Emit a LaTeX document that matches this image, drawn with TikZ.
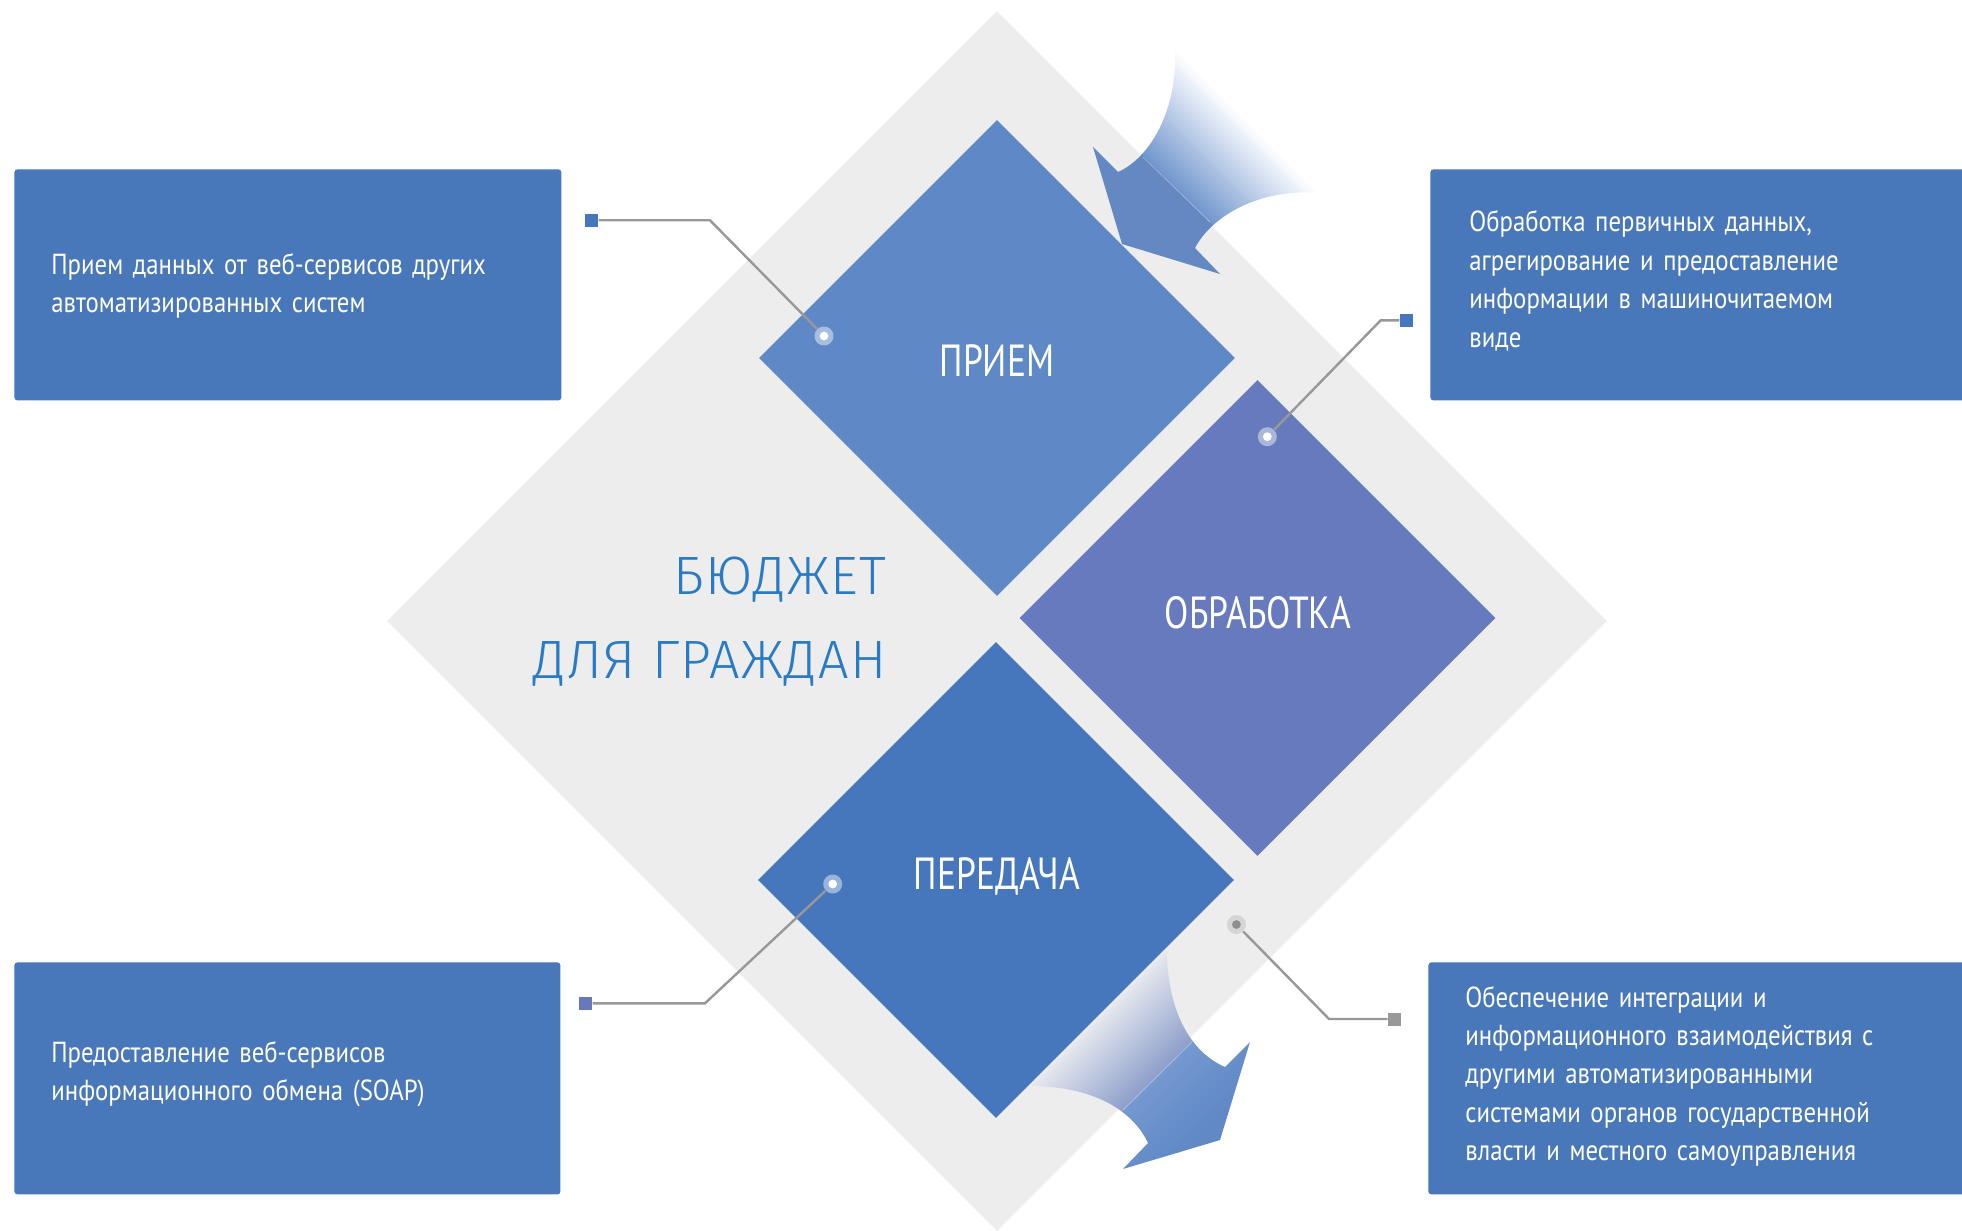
\documentclass[tikz,border=0pt]{standalone}
\usepackage{fontspec}
\setmainfont[FakeStretch=0.855]{PT Sans}
\newfontfamily\labelfont[FakeStretch=0.79]{PT Sans}
\newfontfamily\titlefont[LetterSpace=2.5]{Fira Sans Light}
\usetikzlibrary{shapes.geometric,calc}
\definecolor{bggray}{HTML}{EDEDED}
\definecolor{priem}{HTML}{5F88C6}
\definecolor{obrab}{HTML}{677ABD}
\definecolor{pered}{HTML}{4676BB}
\definecolor{boxblue}{HTML}{4878BA}
\definecolor{titleblue}{HTML}{2A7BC6}
\definecolor{linegray}{HTML}{989898}
\definecolor{arrowA}{HTML}{6488C1}
\definecolor{arrowAf}{HTML}{7095CD}
\definecolor{arrowB}{HTML}{6089C6}
\definecolor{arrowBf}{HTML}{8B9DC9}
\definecolor{arrowBs}{HTML}{E6E8F0}
\definecolor{arrowBh}{HTML}{7598D0}
\definecolor{sqA}{HTML}{4577BD}
\definecolor{sqC}{HTML}{6779BB}
\definecolor{sqD}{HTML}{999999}
\definecolor{dotDring}{HTML}{D5D5D5}
\definecolor{dotDin}{HTML}{8E8E8E}
\begin{document}
\begin{tikzpicture}[x=0.5pt,y=-0.5pt,
  dia/.style={shape=diamond, minimum width=238pt, minimum height=238pt, inner sep=0pt},
  infobox/.style={rectangle, rounded corners=1.5pt, fill=boxblue, inner sep=0pt, anchor=north west},
  infotext/.style={anchor=base west, text=white, font=\fontsize{14.5pt}{19.2pt}\selectfont, align=left, text width=245pt, inner sep=0pt},
  dialabel/.style={text=white, font=\labelfont\fontsize{22.5pt}{26pt}\selectfont, inner sep=0pt},
  titletext/.style={anchor=base east, text=titleblue, font=\titlefont\fontsize{27pt}{32pt}\selectfont, inner sep=0pt},
  conn/.style={draw=linegray, line width=1.2pt},
  sqmark/.style={rectangle, minimum size=6.5pt, inner sep=0pt},
  dotmark/.style={circle, minimum size=9.5pt, inner sep=0pt, path picture={\fill[#1] (path picture bounding box.center) circle (2.2pt);}},
]
\useasboundingbox (0,0) rectangle (1962,1230);
\fill[white] (0,0) rectangle (1962,1230);

% big gray diamond
\node[shape=diamond, minimum width=610pt, minimum height=610pt, inner sep=0pt, fill=bggray] (bg) at (997,621) {};

% top curved arrow
\begin{scope}
  \clip (1175,48) .. controls (1178,110) and (1150,158) .. (1118,172) -- (1093,147) -- (1122,244) -- (1220,274) -- (1195,248) .. controls (1212,215) and (1262,188) .. (1318,193) -- cycle;
  \begin{scope}[transform canvas={rotate around={225:(1246.5,120.5)}}]
    \shade[left color=white, right color=arrowAf] (1246.5,-200) rectangle (1345,440);
    \fill[arrowA] (1344.5,-200) rectangle (1700,440);
  \end{scope}
  \draw[white, opacity=0.35, line width=0.4pt] (1143,157) -- (1210,222);
\end{scope}

% bottom curved arrow
\begin{scope}
  \clip (1030,1086) .. controls (1085,1086) and (1130,1105) .. (1148,1143) -- (1123,1169) -- (1220,1140) -- (1250,1042) -- (1225,1067) .. controls (1190,1052) and (1167,1010) .. (1167,950) -- cycle;
  \begin{scope}[transform canvas={rotate around={-45:(1098.5,1018)}}]
    \shade[left color=arrowBs, right color=arrowBf] (1098.5,700) rectangle (1182,1336);
    \shade[left color=arrowBh, right color=arrowB] (1181.5,700) rectangle (1250.5,1336);
    \fill[arrowB] (1250,700) rectangle (1500,1336);
  \end{scope}
  \draw[white, opacity=0.35, line width=0.4pt] (1123,1110) -- (1192,1042);
\end{scope}

% coloured diamonds
\node[dia, fill=priem] (dpriem) at (997,358) {};
\node[dia, fill=obrab] (dobrab) at (1257.5,618) {};
\node[dia, fill=pered] (dpered) at (996,880) {};

\node[dialabel] (lpriem) at (997,361) {ПРИЕМ};
\node[dialabel] (lobrab) at (1258,612.5) {ОБРАБОТКА};
\node[dialabel] (lpered) at (997,876) {ПЕРЕДАЧА};

% title
\node[titletext] (t1) at (887,594) {БЮДЖЕТ};
\node[titletext] (t2) at (887,678.3) {ДЛЯ ГРАЖДАН};

% info boxes
\node[infobox, minimum width=273.5pt, minimum height=115.5pt] (b1) at (14,169) {};
\node[infobox, minimum width=270pt, minimum height=115.5pt] (b2) at (1430,169) {};
\node[infobox, minimum width=273pt, minimum height=116pt] (b3) at (14,962) {};
\node[infobox, minimum width=270pt, minimum height=116pt] (b4) at (1428,962) {};

\node[infotext] (x1) at (51,274) {Прием данных от веб-сервисов других\\автоматизированных систем};
\node[infotext] (x2) at (1469,232) {Обработка первичных данных,\\агрегирование и предоставление\\информации в машиночитаемом\\виде};
\node[infotext] (x3) at (51,1062) {Предоставление веб-сервисов\\информационного обмена (SOAP)};
\node[infotext] (x4) at (1465,1007) {Обеспечение интеграции и\\информационного взаимодействия с\\другими автоматизированными\\системами органов государственной\\власти и местного самоуправления};

% connector end marks
\node[sqmark, fill=sqA] (s1) at (591.7,220.3) {};
\node[sqmark, fill=sqA] (s2) at (1406.3,320.3) {};
\node[sqmark, fill=sqC] (s3) at (585.7,1003.3) {};
\node[sqmark, fill=sqD] (s4) at (1394.6,1019) {};

\node[dotmark=white, fill=priem!55!white] (d1) at (824,336) {};
\node[dotmark=white, fill=obrab!55!white] (d2) at (1267.3,436.7) {};
\node[dotmark=white, fill=pered!55!white] (d3) at (832.7,884) {};
\node[dotmark=dotDin, fill=dotDring] (d4) at (1236.4,924.5) {};

\coordinate (k1) at (710,220.3);
\coordinate (k2) at (1380.7,320.3);
\coordinate (k3) at (705,1003.3);
\coordinate (k4) at (1329,1019);

\draw[conn] (s1.east) -- (k1) -- (d1);
\draw[conn] (s2.west) -- (k2) -- (d2);
\draw[conn] (s3.east) -- (k3) -- (d3);
\draw[conn] (d4) -- (k4) -- (s4.west);
\end{tikzpicture}
\end{document}
